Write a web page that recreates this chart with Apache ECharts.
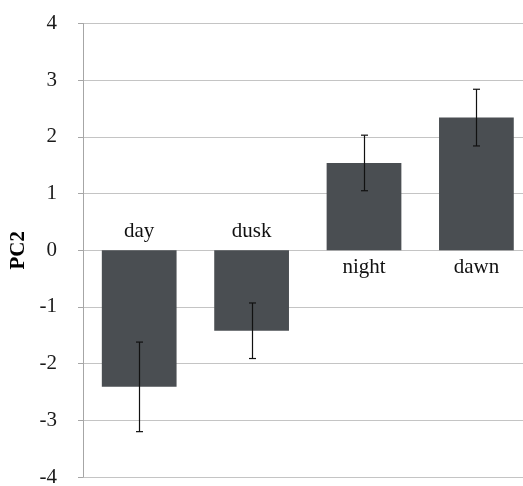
<!DOCTYPE html>
<html><head><meta charset="utf-8">
<script src="https://cdn.jsdelivr.net/npm/echarts@6/dist/echarts.min.js"></script>
<style>html,body{margin:0;padding:0;background:#fff}#c{width:523px;height:486px}</style>
</head><body><div id="c"></div>
<script>
var categories = ['day', 'dusk', 'night', 'dawn'];
var means = [-2.41, -1.42, 1.54, 2.34];
var errors = [0.79, 0.49, 0.49, 0.50];
var yTicks = [-4, -3, -2, -1, 0, 1, 2, 3, 4];

var chart = echarts.init(document.getElementById('c'));
var font = 'Liberation Serif, Times New Roman, serif';
chart.setOption({
  animation: false,
  grid: {left: 83, right: -9.6, top: 23.5, bottom: 9, containLabel: false, outerBoundsMode: 'none'},
  xAxis: {
    type: 'category', data: categories,
    axisLine: {show: false}, axisTick: {show: false}, axisLabel: {show: false}
  },
  yAxis: {
    type: 'value', min: yTicks[0], max: yTicks[yTicks.length - 1], interval: 1,
    name: 'PC2', nameLocation: 'middle', nameGap: 48,
    nameTextStyle: {fontFamily: font, fontSize: 21, fontWeight: 'bold', color: '#000'},
    axisLine: {show: true, lineStyle: {color: '#a6a6a6', width: 1}},
    axisTick: {show: true, length: 5, lineStyle: {color: '#a6a6a6'}},
    axisLabel: {fontFamily: font, fontSize: 21, color: '#1a1a1a', margin: 26},
    splitLine: {lineStyle: {color: '#c4c4c4', width: 1}}
  },
  series: [{
    type: 'bar', barCategoryGap: '33.5%',
    data: means.map(function (v, i) {
      return {value: v, label: {position: v < 0 ? 'top' : 'bottom', distance: v < 0 ? 8 : 7}};
    }),
    itemStyle: {color: '#4a4e52'},
    label: {show: true, formatter: function (p) { return categories[p.dataIndex]; },
      fontFamily: font, fontSize: 21, color: '#111'}
  }, {
    type: 'custom',
    data: means.map(function (v, i) { return [i, v - errors[i], v + errors[i]]; }),
    renderItem: function (params, api) {
      var lo = api.coord([api.value(0), api.value(1)]);
      var hi = api.coord([api.value(0), api.value(2)]);
      var x = Math.round(lo[0]) + 0.5, c = 3.5;
      var st = {stroke: '#111', lineWidth: 1.2};
      return {type: 'group', children: [
        {type: 'line', shape: {x1: x, y1: lo[1], x2: x, y2: hi[1]}, style: st},
        {type: 'line', shape: {x1: x - c, y1: lo[1], x2: x + c, y2: lo[1]}, style: st},
        {type: 'line', shape: {x1: x - c, y1: hi[1], x2: x + c, y2: hi[1]}, style: st}
      ]};
    },
    z: 5
  }]
});
</script></body></html>
